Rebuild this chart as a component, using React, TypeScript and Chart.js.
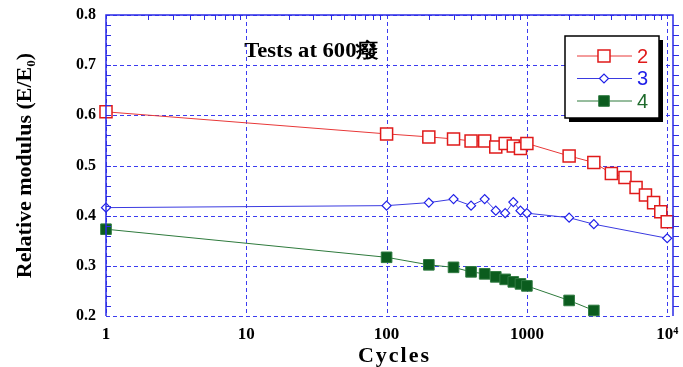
import React, { useEffect, useRef } from 'react';
import { Chart, registerables } from 'chart.js';

Chart.register(...registerables);

// ---- data ----
const cycles2 = [1, 100, 200, 300, 400, 500, 600, 700, 800, 900, 1000, 2000, 3000, 4000, 5000, 6000, 7000, 8000, 9000, 10000];
const modulus2 = [0.607, 0.563, 0.557, 0.553, 0.549, 0.549, 0.537, 0.544, 0.539, 0.534, 0.544, 0.519, 0.506, 0.484, 0.476, 0.456, 0.441, 0.426, 0.408, 0.388];
const cycles3 = [1, 100, 200, 300, 400, 500, 600, 700, 800, 900, 1000, 2000, 3000, 10000];
const modulus3 = [0.416, 0.420, 0.426, 0.433, 0.420, 0.433, 0.410, 0.405, 0.427, 0.410, 0.405, 0.396, 0.383, 0.355];
const cycles4 = [1, 100, 200, 300, 400, 500, 600, 700, 800, 900, 1000, 2000, 3000];
const modulus4 = [0.373, 0.317, 0.302, 0.297, 0.288, 0.284, 0.278, 0.273, 0.268, 0.264, 0.260, 0.231, 0.211];
const seriesNames = ['2', '3', '4'];
const xTickValues = [1, 10, 100, 1000, 10000];
const xTickLabels = ['1', '10', '100', '1000', '10⁴'];
const yTickValues = [0.2, 0.3, 0.4, 0.5, 0.6, 0.7, 0.8];
const titleText = 'Tests at 600癈';
const xTitle = 'Cycles';
const yTitle = 'Relative modulus (E/E₀)';

const X_MIN = 1;
const X_MAX = 11000;
const Y_MIN = 0.2;
const Y_MAX = 0.8;

const SERIF = "'Liberation Serif', 'Times New Roman', serif";
const SANS = "'Liberation Sans', Arial, sans-serif";
const GRID_BLUE = '#3c3cf0';
const AXIS_BLUE = '#2a2ae6';

const RED = '#e01a1a';
const BLUE = '#2020e8';
const GREEN = '#0b5c1e';

function toPts(xs: number[], ys: number[]) {
  return xs.map((x, i) => ({ x, y: ys[i] }));
}

const gridPlugin = {
  id: 'dashGrid',
  beforeDatasetsDraw(chart: any) {
    const { ctx, chartArea, scales } = chart;
    const { left, right, top, bottom } = chartArea;
    ctx.save();
    ctx.strokeStyle = GRID_BLUE;
    ctx.lineWidth = 1;
    ctx.setLineDash([4, 3]);
    ctx.beginPath();
    xTickValues.forEach((v) => {
      const px = Math.round(scales.x.getPixelForValue(v)) + 0.5;
      ctx.moveTo(px, top);
      ctx.lineTo(px, bottom);
    });
    yTickValues.forEach((v) => {
      const py = Math.round(scales.y.getPixelForValue(v)) + 0.5;
      ctx.moveTo(left, py);
      ctx.lineTo(right, py);
    });
    ctx.stroke();
    ctx.restore();
  },
};

const decorPlugin = {
  id: 'decor',
  afterDatasetsDraw(chart: any) {
    const { ctx, chartArea, scales } = chart;
    const { left, right, top, bottom } = chartArea;
    const xs = scales.x;
    const ys = scales.y;
    ctx.save();
    ctx.setLineDash([]);
    // frame left, top & right (solid)
    ctx.strokeStyle = AXIS_BLUE;
    ctx.lineWidth = 1.5;
    ctx.beginPath();
    ctx.moveTo(left, bottom);
    ctx.lineTo(left, top);
    ctx.lineTo(right, top);
    ctx.lineTo(right, bottom);
    ctx.stroke();
    // minor ticks
    ctx.lineWidth = 1;
    ctx.beginPath();
    for (let k = 1; k < 30; k++) {
      const v = Y_MIN + k * 0.02;
      const py = Math.round(ys.getPixelForValue(v)) + 0.5;
      ctx.moveTo(left, py);
      ctx.lineTo(left + 5, py);
      ctx.moveTo(right, py);
      ctx.lineTo(right + 6, py);
    }
    for (let d = 1; d <= 10000; d *= 10) {
      for (let m = 2; m <= 9; m++) {
        const v = d * m;
        if (v > X_MAX) continue;
        const px = Math.round(xs.getPixelForValue(v)) + 0.5;
        ctx.moveTo(px, top);
        ctx.lineTo(px, top + 5);
      }
    }
    ctx.stroke();

    // title text (slightly wide, as in the original)
    ctx.fillStyle = '#000';
    ctx.font = `bold 20px ${SERIF}`;
    ctx.textAlign = 'left';
    ctx.textBaseline = 'alphabetic';
    const tx = xs.getPixelForValue(10) - 2;
    const ty = ys.getPixelForValue(0.717);
    ctx.save();
    ctx.translate(tx, ty);
    ctx.scale(1.13, 1);
    ctx.fillText(titleText, 0, 0);
    ctx.restore();

    // x axis title with letter spacing
    ctx.save();
    ctx.font = `bold 22px ${SERIF}`;
    (ctx as any).letterSpacing = '2px';
    ctx.textAlign = 'center';
    ctx.textBaseline = 'middle';
    ctx.fillText(xTitle, (left + right) / 2 + 5, 356);
    ctx.restore();

    // legend
    const bx = right - 108;
    const by = top + 21;
    const bw = 94;
    const bh = 82;
    ctx.fillStyle = '#000';
    ctx.fillRect(bx + 4, by + 4, bw, bh);
    ctx.fillStyle = '#fff';
    ctx.fillRect(bx, by, bw, bh);
    ctx.strokeStyle = '#000';
    ctx.lineWidth = 1.5;
    ctx.strokeRect(bx, by, bw, bh);
    const dsets = chart.data.datasets;
    dsets.forEach((ds: any, i: number) => {
      const ry = by + 20 + i * 22.5;
      ctx.strokeStyle = ds.borderColor;
      ctx.lineWidth = 1;
      ctx.beginPath();
      ctx.moveTo(bx + 12, ry);
      ctx.lineTo(bx + 67, ry);
      ctx.stroke();
      ctx.fillStyle = ds.pointBackgroundColor;
      ctx.strokeStyle = ds.pointBorderColor;
      ctx.lineWidth = ds.pointBorderWidth;
      const cx = bx + 39;
      if (ds.pointStyle === 'rectRot') {
        const r = ds.pointRadius;
        ctx.beginPath();
        ctx.moveTo(cx - r, ry);
        ctx.lineTo(cx, ry - r);
        ctx.lineTo(cx + r, ry);
        ctx.lineTo(cx, ry + r);
        ctx.closePath();
        ctx.fill();
        ctx.stroke();
      } else {
        const s = ds.pointRadius * Math.SQRT1_2;
        ctx.beginPath();
        ctx.rect(cx - s, ry - s, 2 * s, 2 * s);
        ctx.fill();
        ctx.stroke();
      }
      ctx.fillStyle = ds.legendTextColor;
      ctx.font = `20px ${SANS}`;
      ctx.textAlign = 'left';
      ctx.textBaseline = 'middle';
      ctx.fillText(ds.label, bx + 72, ry + 1);
    });
    ctx.restore();
  },
};

export default function App() {
  const canvasRef = useRef<HTMLCanvasElement | null>(null);

  useEffect(() => {
    if (!canvasRef.current) return;
    const chart = new Chart(canvasRef.current, {
      type: 'line',
      data: {
        datasets: [
          {
            label: seriesNames[0],
            data: toPts(cycles2, modulus2),
            borderColor: '#e83838',
            borderWidth: 1,
            pointStyle: 'rect',
            pointRadius: 8.5,
            pointHoverRadius: 8.5,
            pointBackgroundColor: '#ffffff',
            pointBorderColor: RED,
            pointBorderWidth: 1.5,
            tension: 0,
            clip: false,
            legendTextColor: RED,
          } as any,
          {
            label: seriesNames[1],
            data: toPts(cycles3, modulus3),
            borderColor: '#3a3ae0',
            borderWidth: 1,
            pointStyle: 'rectRot',
            pointRadius: 4.5,
            pointHoverRadius: 4.5,
            pointBackgroundColor: '#ffffff',
            pointBorderColor: BLUE,
            pointBorderWidth: 1.2,
            tension: 0,
            clip: false,
            legendTextColor: BLUE,
          } as any,
          {
            label: seriesNames[2],
            data: toPts(cycles4, modulus4),
            borderColor: '#2e7a3c',
            borderWidth: 1,
            pointStyle: 'rect',
            pointRadius: 7.5,
            pointHoverRadius: 7.5,
            pointBackgroundColor: GREEN,
            pointBorderColor: '#2f7a40',
            pointBorderWidth: 1,
            tension: 0,
            clip: false,
            legendTextColor: '#1e6a2c',
          } as any,
        ],
      },
      options: {
        animation: false,
        responsive: false,
        devicePixelRatio: 1,
        layout: { padding: { left: 12, right: 5, top: 15, bottom: 0 } },
        plugins: {
          legend: { display: false },
          tooltip: { enabled: false },
        },
        scales: {
          x: {
            type: 'logarithmic',
            min: X_MIN,
            max: X_MAX,
            afterBuildTicks: (scale: any) => {
              scale.ticks = xTickValues.map((v) => ({ value: v }));
            },
            afterFit: (scale: any) => {
              scale.height = 51;
              scale.paddingLeft = 0;
              scale.paddingRight = 0;
            },
            ticks: {
              autoSkip: false,
              maxRotation: 0,
              padding: 8,
              color: '#000',
              font: { family: SERIF, size: 17, weight: 'bold' },
              callback: (value: any) => {
                const i = xTickValues.indexOf(Number(value));
                return i >= 0 ? xTickLabels[i] : '';
              },
            },
            grid: { display: false, drawTicks: false },
            border: { display: false },
            title: { display: false },
          } as any,
          y: {
            type: 'linear',
            min: Y_MIN,
            max: Y_MAX,
            afterBuildTicks: (scale: any) => {
              scale.ticks = yTickValues.map((v) => ({ value: v }));
            },
            afterFit: (scale: any) => {
              scale.width = 94;
              scale.paddingTop = 0;
              scale.paddingBottom = 0;
            },
            ticks: {
              padding: 10,
              color: '#000',
              font: { family: SERIF, size: 16, weight: 'bold' },
              callback: (value: any) => Number(value).toFixed(1),
            },
            grid: { display: false, drawTicks: false },
            border: { display: false },
            title: {
              display: true,
              text: yTitle,
              color: '#000',
              padding: 0,
              font: { family: SERIF, size: 22, weight: 'bold' },
            },
          } as any,
        },
      } as any,
      plugins: [gridPlugin, decorPlugin],
    });
    return () => chart.destroy();
  }, []);

  return (
    <div style={{ position: 'fixed', left: 0, top: 0, width: 683, height: 367, background: '#fff' }}>
      <canvas ref={canvasRef} width={683} height={367} style={{ display: 'block' }} />
    </div>
  );
}
